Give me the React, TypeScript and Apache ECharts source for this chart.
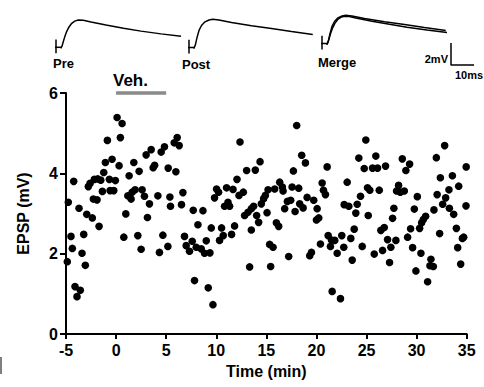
import React, { useEffect, useRef } from "react";
import * as echarts from "echarts";

// EPSP amplitude (mV) vs time (min)
const baselinePoints: [number, number][] = [
  [-1.07, 4.27], [-0.4, 4.35], [-0.87, 4.82], [-4.23, 3.8], [-1.23, 4.02], [-1.83, 3.86],
  [-2.17, 3.85], [-2.6, 3.75], [-2.77, 3.67], [-1.53, 3.83], [-0.67, 3.85], [-0.07, 3.82],
  [-1.37, 3.55], [-0.6, 3.57], [-0.23, 3.57], [-2.27, 3.36], [-1.9, 3.34], [-4.77, 3.28],
  [-3.7, 3.13], [-2.93, 2.98], [-2.37, 2.89], [-1.7, 2.68], [-4.5, 2.43], [-3.23, 2.48],
  [-4.37, 2.13], [-3.4, 2.01], [-4.87, 1.8], [-3.07, 1.71], [-4.1, 1.18], [-3.57, 1.09],
  [-3.9, 0.93],
];
const vehiclePoints: [number, number][] = [
  [0.1, 5.39], [0.6, 5.24], [0.43, 4.89], [0.3, 4.19], [1.77, 4.27], [3.0, 4.46], [3.5, 4.59],
  [4.5, 4.53], [4.83, 4.66], [5.2, 4.13], [3.7, 4.14], [3.85, 4.2], [2.3, 4.05], [1.3, 3.94],
  [1.17, 3.44], [1.6, 3.53], [1.9, 3.59], [2.6, 3.59], [1.5, 3.36], [2.83, 3.43], [3.33, 3.24],
  [4.17, 3.44], [5.37, 3.41], [5.43, 3.18], [0.97, 2.99], [3.13, 2.9], [0.77, 2.41],
  [2.17, 2.45], [2.5, 2.11], [4.67, 2.46], [4.33, 2.03], [5.17, 2.18],
];
const earlyWashPoints: [number, number][] = [
  [6.1, 4.89], [5.8, 4.76], [6.3, 4.69], [5.97, 4.04], [12.37, 4.78], [14.37, 4.29],
  [13.03, 4.07], [13.9, 4.08], [12.07, 3.85], [10.03, 3.61], [10.23, 3.53], [9.83, 3.39],
  [11.03, 3.64], [11.67, 3.6], [12.7, 3.53], [12.27, 3.45], [6.67, 3.52], [6.53, 3.22],
  [7.7, 3.08], [8.67, 3.07], [10.83, 3.18], [11.33, 3.18], [11.17, 3.28], [8.17, 2.72],
  [9.5, 2.64], [10.53, 2.64], [11.83, 2.69], [10.7, 2.45], [11.53, 2.48], [10.33, 2.33],
  [9.0, 2.32], [6.83, 2.43], [7.6, 2.31], [7.0, 2.2], [7.33, 2.06], [8.0, 2.16], [8.5, 2.12],
  [8.83, 2.01], [9.37, 2.02], [13.33, 1.67], [7.83, 1.33], [9.2, 1.15], [9.67, 0.73],
  [12.83, 2.95], [13.17, 3.03], [13.5, 3.12], [13.73, 3.18], [14.03, 2.95], [14.23, 2.78],
  [13.5, 2.59], [14.5, 3.24], [14.73, 3.37], [14.9, 3.45], [15.17, 3.59], [15.07, 3.02],
  [15.33, 2.23], [15.43, 1.68],
];
const midWashPoints: [number, number][] = [
  [18.03, 5.19], [24.93, 4.83], [18.53, 4.45], [18.9, 4.26], [17.7, 4.06], [21.07, 4.16],
  [24.23, 4.38], [24.77, 4.12], [20.57, 3.76], [20.7, 3.58], [20.9, 3.47], [23.07, 3.78],
  [15.83, 3.61], [16.33, 3.78], [16.6, 3.66], [16.67, 3.56], [17.57, 3.66], [18.23, 3.63],
  [17.1, 3.3], [17.43, 3.33], [16.83, 3.12], [17.87, 3.05], [18.33, 3.24], [18.67, 3.14],
  [19.07, 3.4], [19.73, 3.33], [20.07, 3.12], [20.0, 2.84], [20.23, 2.89], [16.0, 2.77],
  [16.23, 2.68], [15.67, 2.16], [17.23, 1.93], [19.33, 1.95], [19.5, 2.03], [20.4, 2.24],
  [21.17, 2.45], [21.5, 2.34], [21.4, 2.18], [21.83, 2.33], [22.07, 2.01], [22.53, 2.45],
  [22.73, 2.16], [23.43, 2.38], [23.77, 2.61], [23.57, 1.84], [24.57, 2.18], [22.77, 3.22],
  [23.23, 3.18], [23.93, 3.01], [24.07, 3.23], [24.4, 3.43], [25.1, 3.64], [25.33, 3.58],
  [25.17, 2.95], [21.57, 1.06], [22.4, 0.88],
];
const lateWashPoints: [number, number][] = [
  [32.8, 4.69], [25.93, 4.43], [28.57, 4.36], [29.3, 4.23], [28.93, 4.07], [31.97, 4.39],
  [34.95, 4.16], [25.6, 4.13], [26.1, 4.13], [26.9, 4.18], [32.37, 3.89], [33.57, 3.94],
  [34.2, 3.68], [33.23, 3.59], [26.27, 3.58], [28.2, 3.7], [28.0, 3.56], [28.37, 3.53],
  [28.77, 3.56], [32.05, 3.47], [32.9, 3.39], [30.07, 3.42], [32.6, 3.23], [31.73, 3.09],
  [33.27, 3.13], [33.7, 2.98], [34.93, 3.19], [27.73, 3.13], [29.77, 3.11], [27.6, 2.88],
  [30.9, 2.93], [30.67, 2.85], [30.5, 2.77], [26.43, 2.58], [26.77, 2.65], [29.4, 2.62],
  [30.3, 2.63], [33.97, 2.63], [32.3, 2.5], [34.7, 2.41], [34.57, 2.38], [27.1, 2.35],
  [27.93, 2.33], [27.43, 2.16], [29.1, 2.41], [29.6, 2.15], [25.77, 1.99], [26.6, 2.08],
  [30.43, 2.01], [34.1, 2.15], [27.3, 1.78], [31.43, 1.86], [31.33, 1.7], [31.67, 1.68],
  [34.4, 1.74], [29.93, 1.57], [31.1, 1.3],
];

// Vehicle application bar (min, mV level)
const vehBar: [number, number][] = [[0, 6], [5, 6]];

// Axis ranges
const xMin = -5, xMax = 35, xStep = 5;
const yMin = 0, yMax = 6, yStep = 2;

// Example EPSP traces (ms, mV), including stimulus artifact
const artifactH: [number, number][] = [[-1.8, 0], [2, 0]];
const artifactV: [number, number][] = [[0, 0.7], [0, -0.55]];
const preTrace: [number, number][] = [
  [1.9, -0.1], [2.4, 0.1], [2.9, 0.5], [3.5, 0.95], [4.3, 1.45], [5.2, 1.85], [6.3, 2.18],
  [7.5, 2.38], [8.9, 2.48], [10.9, 2.45], [14, 2.3], [20, 2.02], [27, 1.74], [34, 1.47],
  [42, 1.22], [50, 1.0],
];
const postTrace: [number, number][] = [
  [1.9, -0.1], [2.5, 0.2], [3.2, 0.9], [4, 1.55], [5, 2.0], [6.2, 2.3], [8, 2.5], [9.5, 2.56],
  [12, 2.5], [17, 2.27], [25, 1.97], [33, 1.72], [41, 1.45], [49.5, 1.18],
];
const scaleBar: [number, number][] = [[51.6, 0.05], [51.6, -1.95], [61.6, -1.95]];

const FONT = "'Liberation Sans', Arial, Helvetica, sans-serif";

export default function App() {
  const ref = useRef<HTMLDivElement>(null);
  useEffect(() => {
    if (!ref.current) return;
    const chart = echarts.init(ref.current, undefined, { renderer: "svg" });
    const points = [
      ...baselinePoints, ...vehiclePoints, ...earlyWashPoints, ...midWashPoints, ...lateWashPoints,
    ];
    const traceGrid = (left: number, top: number) => ({ left, top, width: 150, height: 55 });
    const hiddenX = (gridIndex: number) => ({
      type: "value", gridIndex, min: 0, max: 60, show: false,
    });
    const hiddenY = (gridIndex: number) => ({
      type: "value", gridIndex, min: -2, max: 3, show: false,
    });
    const traceSeries = (data: [number, number][], idx: number, width = 1.5) => ({
      type: "line", data, xAxisIndex: idx, yAxisIndex: idx, symbol: "none", clip: false,
      lineStyle: { color: "#000", width }, silent: true,
    });
    const boldLabel = { color: "#000", fontFamily: FONT, fontWeight: "bold", fontSize: 16 };
    chart.setOption({
      animation: false,
      backgroundColor: "#fff",
      grid: [
        { left: 66, right: 17.3, top: 93, bottom: 53 },
        traceGrid(56, 14.3),
        traceGrid(189, 14.5),
        traceGrid(322, 10.5),
      ],
      xAxis: [
        {
          type: "value", gridIndex: 0, min: xMin, max: xMax, interval: xStep,
          name: "Time (min)", nameLocation: "middle", nameGap: 29,
          nameTextStyle: { ...boldLabel },
          axisLine: { onZero: false, lineStyle: { color: "#000", width: 2 } },
          axisTick: { show: true, length: 5, lineStyle: { color: "#000", width: 2 } },
          axisLabel: { ...boldLabel, margin: 8 },
          splitLine: { show: false },
        },
        hiddenX(1), hiddenX(2), hiddenX(3),
      ],
      yAxis: [
        {
          type: "value", gridIndex: 0, min: yMin, max: yMax, interval: yStep,
          name: "EPSP (mV)", nameLocation: "middle", nameGap: 35, nameRotate: 90,
          nameTextStyle: { ...boldLabel },
          axisLine: { show: true, onZero: false, lineStyle: { color: "#000", width: 2 } },
          axisTick: { show: true, length: 6, lineStyle: { color: "#000", width: 2 } },
          axisLabel: { ...boldLabel, margin: 8 },
          splitLine: { show: false },
        },
        hiddenY(1), hiddenY(2), hiddenY(3),
      ],
      series: [
        {
          type: "scatter", data: points, xAxisIndex: 0, yAxisIndex: 0,
          symbol: "circle", symbolSize: 7.6, itemStyle: { color: "#000", opacity: 1 }, clip: false,
        },
        {
          type: "line", data: vehBar, xAxisIndex: 0, yAxisIndex: 0, symbol: "none", clip: false,
          lineStyle: { color: "#8a8a8a", width: 3.5 },
        },
        traceSeries(artifactH, 1), traceSeries(artifactV, 1), traceSeries(preTrace, 1),
        traceSeries(artifactH, 2), traceSeries(artifactV, 2), traceSeries(postTrace, 2),
        traceSeries(artifactH, 3), traceSeries(artifactV, 3),
        traceSeries(preTrace, 3), traceSeries(postTrace, 3),
        traceSeries(scaleBar, 3, 1.5),
      ],
      graphic: [
        { type: "text", x: 113, y: 80, style: { text: "Veh.", font: `bold 17px ${FONT}`, fill: "#000", textVerticalAlign: "middle" } },
        { type: "text", x: 53, y: 63, style: { text: "Pre", font: `bold 13px ${FONT}`, fill: "#000", textVerticalAlign: "middle" } },
        { type: "text", x: 182, y: 64, style: { text: "Post", font: `bold 13px ${FONT}`, fill: "#000", textVerticalAlign: "middle" } },
        { type: "text", x: 318, y: 62, style: { text: "Merge", font: `bold 13px ${FONT}`, fill: "#000", textVerticalAlign: "middle" } },
        { type: "text", x: 448, y: 58.5, style: { text: "2mV", font: `bold 11px ${FONT}`, fill: "#000", textAlign: "right", textVerticalAlign: "middle" } },
        { type: "text", x: 455, y: 75, style: { text: "10ms", font: `bold 11px ${FONT}`, fill: "#000", textVerticalAlign: "middle" } },
        { type: "line", shape: { x1: 1, y1: 357, x2: 1, y2: 374 }, style: { stroke: "#555", lineWidth: 1.5 } },
      ],
    });
    return () => chart.dispose();
  }, []);
  return (
    <div
      ref={ref}
      style={{ position: "fixed", left: 0, top: 0, width: 484, height: 387, background: "#fff" }}
    />
  );
}
